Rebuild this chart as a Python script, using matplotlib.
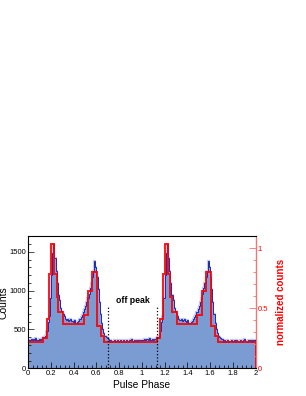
import numpy as np
import matplotlib
matplotlib.use("Agg")
import matplotlib.pyplot as plt
from matplotlib.ticker import MultipleLocator

plt.rcParams['font.family'] = ['Liberation Sans', 'DejaVu Sans']

# fine light curve, one pulse cycle, 100 bins of 0.01 in phase
counts = [370, 365, 380, 360, 375, 370, 385, 365, 370, 375, 360, 380, 385,
          400, 395, 410, 480, 600, 680, 900, 1200, 1480, 1600, 1420, 1250, 1100,
          950, 880, 780, 740, 700, 670,
          640, 620, 630, 610, 625, 640, 615, 600, 620, 590, 580, 600, 610,
          630, 660, 690, 720, 760, 800, 850, 900, 960, 1030, 1100, 1180, 1260,
          1380, 1300, 1180, 1020, 850, 700, 590, 500, 450, 420, 400, 395, 380,
          345, 360, 340, 355, 365, 340, 350, 370, 345, 355, 360, 340, 365, 350,
          345, 370, 355, 340, 360, 375, 350, 345, 365, 355, 360, 345, 370, 355, 360]

# bayesian blocks, one pulse cycle
block_edges = [0, 0.13, 0.162, 0.186, 0.201, 0.229, 0.25, 0.265, 0.308,
               0.487, 0.527, 0.56, 0.606, 0.64, 0.668, 1.0]
block_vals = [340, 390, 630, 1215, 1600, 1215, 915, 720, 575,
              690, 1000, 1235, 540, 420, 340]

off_peak = [0.7, 1.13]
norm = 1546.0

# two cycles
fine_edges = np.linspace(0, 2, 2 * len(counts) + 1)
fine_vals = np.tile(counts, 2)
bb_edges = np.concatenate([block_edges[:-1], np.array(block_edges) + 1])
bb_vals = np.tile(block_vals, 2)

fig = plt.figure(figsize=(3.06, 3.96), dpi=100)
ax = fig.add_axes([0.0925, 0.070, 0.7425, 0.334])

ax.stairs(fine_vals, fine_edges, fill=True, color='#7b9bd3', lw=0)
ax.stairs(fine_vals, fine_edges, color='#9aa8e8', lw=1.6, alpha=0.6)
ax.stairs(fine_vals, fine_edges, color='#1f2aa8', lw=0.7)
ax.stairs(bb_vals, bb_edges, color='#ff0000', lw=1.4, alpha=0.9)

for p in off_peak:
    ax.plot([p, p], [0, 790], color='black', ls=':', lw=0.9)
ax.text(0.92, 880, 'off peak', fontsize=6.3, fontweight='bold', ha='center', va='center')

ax.set_xlim(0, 2)
ax.set_ylim(0, 1705)
ax.xaxis.set_minor_locator(MultipleLocator(0.04))
ax.yaxis.set_major_locator(MultipleLocator(500))
ax.yaxis.set_minor_locator(MultipleLocator(100))
ax.set_xticks(np.arange(0, 2.01, 0.2))
ax.set_xticklabels(['0', '0.2', '0.4', '0.6', '0.8', '1', '1.2', '1.4', '1.6', '1.8', '2'])
ax.tick_params(which='both', direction='in', labelsize=5.5, pad=1.5, width=0.5)
ax.tick_params(which='major', length=4)
ax.tick_params(which='minor', length=2)
ax.tick_params(axis='y', which='both', right=False)
ax.set_xlabel('Pulse Phase', fontsize=7.3, labelpad=2)
ax.set_ylabel('Counts', fontsize=7.5)
ax.yaxis.set_label_coords(-0.085, 0.5)
for s in ['left', 'bottom', 'top']:
    ax.spines[s].set_linewidth(0.6)
ax.spines['top'].set_color('#444444')

ax2 = ax.twinx()
ax2.set_ylim(0, 1705 / norm)
ax2.yaxis.set_minor_locator(MultipleLocator(0.1))
ax2.set_yticks([0, 0.5, 1])
ax2.set_yticklabels(['0', '0.5', '1'])
ax2.tick_params(which='both', direction='in', colors='#ff7070', labelcolor='#ff0000',
                labelsize=5.5, pad=1.5, width=0.6)
ax2.tick_params(which='major', length=5)
ax2.tick_params(which='minor', length=2.5)
ax2.spines['right'].set_color('#ff7070')
ax2.spines['right'].set_linewidth(0.8)
ax2.set_ylabel('normalized counts', color='#ff0000', fontsize=7, fontweight='bold', labelpad=6)

fig.savefig('out.png', dpi=100)
